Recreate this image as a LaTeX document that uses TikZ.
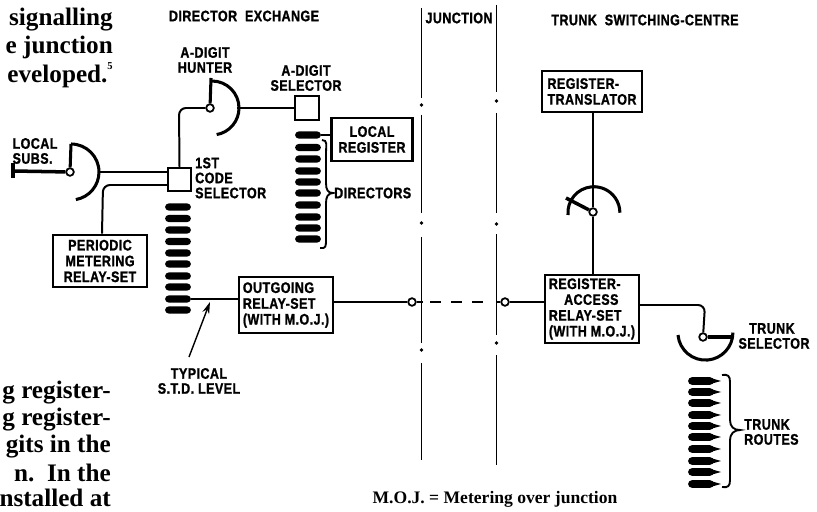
\documentclass[tikz,border=0pt]{standalone}
\usepackage{fontspec}
\setmainfont{Liberation Sans}
\newfontfamily\bookfont{Liberation Serif}
\newfontfamily\drawfont{Liberation Sans}[FakeStretch=0.82, LetterSpace=3, BoldFeatures={FakeBold=1.2}]
\usepackage{tikz}
\usetikzlibrary{positioning,shapes.misc,arrows.meta}
\tikzset{
    unitbox/.style={draw, line width=1.9pt, inner sep=1pt, font=\drawfont\bfseries\fontsize{13}{13.5}\selectfont, align=left},
    selbox/.style={draw, line width=1.5pt, fill=white, minimum size=20pt, inner sep=0pt},
    tag/.style={font=\drawfont\bfseries\fontsize{13}{12.8}\selectfont, inner sep=0pt, align=left},
    pagetext/.style={font=\bookfont\bfseries\fontsize{21.5}{23}\selectfont, inner sep=0pt, anchor=east},
    wire/.style={line width=1.7pt, rounded corners=6pt},
    sweep/.style={line width=2.6pt},
    pivot/.style={circle, draw, line width=1.5pt, fill=white, minimum size=6.5pt, inner sep=0pt},
    bankbar/.style={rounded rectangle, fill=black, minimum width=22pt, minimum height=6pt, inner sep=0pt},
    divider/.style={line width=1.5pt}
}

\begin{document}
\begin{tikzpicture}[x=0.03cm, y=-0.03cm]
    \useasboundingbox (0,0) rectangle (817,512);

    % Page text around the figure
    \foreach \y/\t in {20/signalling, 47/e junction, 75/eveloped.\raisebox{1.1ex}{\fontsize{9}{9}\selectfont 5}}
        \node[pagetext] at (113,\y) {\t};
    \foreach \y/\t in {393/g register-, 420/g register-, 447/gits in the, 473/n.\ \ In the, 498/nstalled at}
        \node[pagetext] at (111,\y) {\t};
    \node[inner sep=0pt, font=\bookfont\bfseries\fontsize{15}{17}\selectfont] (note) at (495,499) {M.O.J. = Metering over junction};

    % Headings
    \node[tag] (direxch) at (244,16) {DIRECTOR\ \ EXCHANGE};
    \node[tag] (junc) at (459,18) {JUNCTION};
    \node[tag] (trunkcentre) at (645,20) {TRUNK\ \ SWITCHING-CENTRE};

    % Junction boundaries
    \foreach \a/\b in {8/98, 115/213, 237/343, 363/460}
        \draw[divider] (421.5,\a) -- (421.5,\b);
    \foreach \a/\b in {5/92, 113/213, 234/335, 355/465}
        \draw[divider] (496.5,\a) -- (496.5,\b);
    \foreach \x/\y in {421.5/105, 496.5/101, 421.5/223, 496.5/224, 421.5/350, 496.5/343}
        \fill (\x,\y) circle (1.8);

    % Boxes
    \node[selbox] (codesel) at (179.5,179.5) {};
    \node[selbox] (digitsel) at (307,108) {};
    \node[unitbox, minimum width=80pt, minimum height=45pt, align=center] (periodic) at (100,261) {PERIODIC\\METERING\\RELAY-SET};
    \node[unitbox, minimum width=80pt, minimum height=48pt] (outgoing) at (286,305) {OUTGOING\\RELAY-SET\\(WITH M.O.J.)};
    \node[unitbox, minimum width=69pt, minimum height=37pt, align=center] (localreg) at (372,139.5) {LOCAL\\REGISTER};
    \node[unitbox, minimum width=85pt, minimum height=35pt] (translator) at (592,91.5) {REGISTER-\\TRANSLATOR};
    \node[unitbox, minimum width=80pt, minimum height=58pt] (access) at (592,309) {REGISTER-\\\hspace*{1em}ACCESS\\RELAY-SET\\(WITH M.O.J.)};

    % Pivots of the selectors
    \node[pivot] (subspivot) at (70,172) {};
    \node[pivot] (hunterpivot) at (210,108) {};
    \node[pivot] (regpivot) at (593,212) {};
    \node[pivot] (trunkpivot) at (703,337) {};
    \node[pivot] (juncleft) at (412,302) {};
    \node[pivot] (juncright) at (505,302) {};

    % Contact banks
    \foreach \y [count=\i] in {207,218.5,230,241.5,253,264,276,287,299,310}
        \node[bankbar] (code\i) at (178,\y) {};
    \foreach \y [count=\i] in {135,147.5,159,171,182,193,205,217,228,239}
        \node[bankbar] (dir\i) at (308,\y) {};
    \foreach \y [count=\i] in {381,392,403,415,426,437,449,461,472,484} {
        \node[bankbar, minimum height=6.5pt] (route\i) at (701,\y) {};
        \fill (route\i.north east) ++(-3,0) -- (721,\y) -- ([xshift=-3]route\i.south east) -- cycle;
    }

    % Selector arcs
    \draw[sweep] (71,144) arc[start angle=-90, end angle=80, radius=28];
    \draw[sweep] (subspivot) -- (71,144);
    \draw[sweep] (212,81) arc[start angle=-90, end angle=80, radius=27];
    \draw[sweep] (hunterpivot) -- (211,78);
    \draw[sweep] (568,215) arc[start angle=175, end angle=360, radius=26];
    \draw[sweep, line width=3pt] (regpivot) -- (566,198);
    \draw[sweep] (678,335) arc[start angle=175, end angle=0, radius=27.5];
    \draw[sweep, line width=3pt] (trunkpivot) -- (733,337);
    \draw[sweep, line width=3pt] (subspivot) -- (13,171);
    \draw[line width=3.4pt] (13,163) -- (13,178);

    % Wires
    \coordinate (subsout) at (98,172);
    \coordinate (hunterout) at (237,108);
    \draw[wire] (subsout) -- (subsout -| codesel.west);
    \draw[wire] (codesel.west |- 0,185) -- (103,185) -- (periodic.north -| 102,0);
    \draw[wire] (codesel.north) -- (179,108) -- (hunterpivot);
    \draw[wire] (hunterout) -- (digitsel.west);
    \draw[wire] (dir1.east) -- (dir1.east -| localreg.west);
    \draw[wire] (code9.east) -- (code9.east -| outgoing.west);
    \draw[wire] (outgoing.east |- juncleft) -- (juncleft);
    \draw[wire] (juncleft) -- (423,302);
    \draw[wire, dashed, dash pattern=on 9pt off 9pt] (430,302) -- (490,302);
    \draw[wire] (496.5,302) -- (juncright);
    \draw[wire] (juncright) -- (juncright -| access.west);
    \draw[wire] (translator.south -| regpivot) -- (regpivot);
    \draw[wire] (regpivot) -- (regpivot |- access.north);
    \draw[wire] (access.east |- 0,305) -- (705,305) -- (trunkpivot);

    % Pointer to the STD level
    \coordinate (stdtip) at (210,302);
    \coordinate (stdfoot) at (189,357);
    \draw[-{Stealth[length=10pt, width=6pt]}, line width=1.2pt] (stdfoot) -- (stdtip);

    % Braces
    \draw[line width=1.6pt] (322,140) .. controls (328,140) and (326,146) .. (326,152) -- (326,183)
        .. controls (326,190) and (328,193) .. (333,193) .. controls (328,193) and (326,197) .. (326,203)
        -- (326,240) .. controls (326,246) and (326,249) .. (320,248);
    \draw[line width=1.6pt] (722,375) .. controls (728,374) and (730,376) .. (730,382) -- (730,420)
        .. controls (730,427) and (734,430) .. (740,430) .. controls (734,430) and (730,434) .. (730,440)
        -- (730,480) .. controls (730,486) and (728,488) .. (722,487);

    % Labels
    \node[tag] (subslabel) at (35,151) {LOCAL\\SUBS.};
    \node[tag, align=center] (hunterlabel) at (205,60) {A-DIGIT\\HUNTER};
    \node[tag, align=center] (digitlabel) at (306,78) {A-DIGIT\\SELECTOR};
    \node[tag, anchor=west] (codelabel) at (195,178) {1ST\\CODE\\SELECTOR};
    \node[tag, anchor=west] (dirlabel) at (334,193) {DIRECTORS};
    \node[tag, align=center] (stdlabel) at (199,381) {TYPICAL\\S.T.D. LEVEL};
    \node[tag] (sellabel) at (774,336) {\hspace*{0.7em}TRUNK\\SELECTOR};
    \node[tag, anchor=west] (routelabel) at (744,432) {TRUNK\\ROUTES};
\end{tikzpicture}
\end{document}
